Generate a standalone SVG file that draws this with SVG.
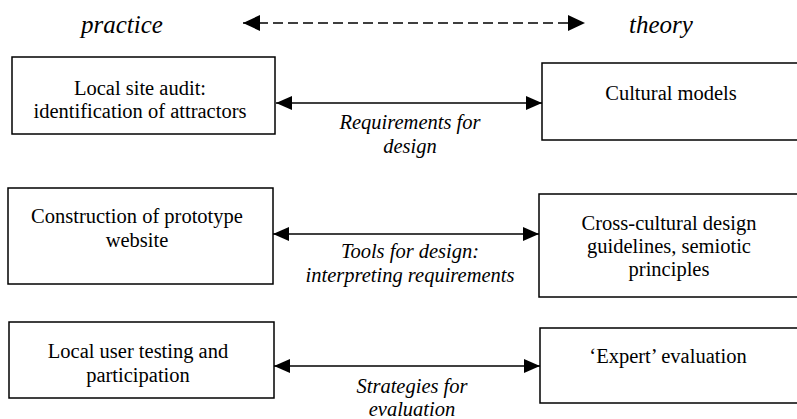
<svg xmlns="http://www.w3.org/2000/svg" width="797" height="419" viewBox="0 0 797 419" font-family="Liberation Serif, Times New Roman, Times, serif">
<style>
.box{fill:#fff;stroke:#000;stroke-width:1.5}
text{font-family:"Liberation Serif","Times New Roman",Times,serif}
.t{font-size:20.5px;fill:#000;text-anchor:middle}
.i{font-size:20.5px;font-style:italic;fill:#000;text-anchor:middle}
.h{font-size:25px;font-style:italic;fill:#000;text-anchor:middle}
.c{stroke:#000;stroke-width:1.5;fill:none}
</style>
<defs>
<marker id="ah" viewBox="0 0 16 14" refX="16" refY="7" markerWidth="16" markerHeight="14" markerUnits="userSpaceOnUse" orient="auto-start-reverse">
<path d="M0,0 L16,7 L0,14 Z" fill="#000"/>
</marker>
<marker id="ahb" viewBox="0 0 17 16" refX="17" refY="8" markerWidth="17" markerHeight="16" markerUnits="userSpaceOnUse" orient="auto-start-reverse">
<path d="M0,0 L17,8 L0,16 Z" fill="#000"/>
</marker>
</defs>
<rect width="797" height="419" fill="#fff"/>
<text class="h" x="122" y="33" font-family="Liberation Serif">practice</text>
<text class="h" x="661" y="33" font-family="Liberation Serif">theory</text>
<g id="connectors">
<line class="c" x1="243" y1="23" x2="585" y2="23" stroke-dasharray="10,5" marker-start="url(#ahb)" marker-end="url(#ahb)"/>
<line class="c" x1="276" y1="103" x2="542" y2="103" marker-start="url(#ah)" marker-end="url(#ah)"/>
<line class="c" x1="273" y1="234" x2="539" y2="234" marker-start="url(#ah)" marker-end="url(#ah)"/>
<line class="c" x1="274" y1="366" x2="540" y2="366" marker-start="url(#ah)" marker-end="url(#ah)"/>
<text class="i" x="410" y="129">Requirements for</text>
<text class="i" x="410" y="153">design</text>
<text class="i" x="410" y="258">Tools for design:</text>
<text class="i" x="410" y="282">interpreting requirements</text>
<text class="i" x="412" y="393">Strategies for</text>
<text class="i" x="412" y="416">evaluation</text>
</g>
<g id="n1">
<rect class="box" x="12" y="57" width="263" height="77"/>
<text class="t" x="140" y="95">Local site audit:</text>
<text class="t" x="140" y="118">identification of attractors</text>
</g>
<g id="n2">
<rect class="box" x="542" y="63" width="260" height="77"/>
<text class="t" x="671" y="100">Cultural models</text>
</g>
<g id="n3">
<rect class="box" x="8" y="188" width="265" height="96"/>
<text class="t" x="137" y="223">Construction of prototype</text>
<text class="t" x="137" y="247">website</text>
</g>
<g id="n4">
<rect class="box" x="539" y="194" width="263" height="103"/>
<text class="t" x="669" y="230">Cross-cultural design</text>
<text class="t" x="669" y="253">guidelines, semiotic</text>
<text class="t" x="669" y="276">principles</text>
</g>
<g id="n5">
<rect class="box" x="9" y="322" width="265" height="76"/>
<text class="t" x="138" y="358">Local user testing and</text>
<text class="t" x="138" y="382">participation</text>
</g>
<g id="n6">
<rect class="box" x="540" y="328" width="262" height="75"/>
<text class="t" x="668" y="363">‘Expert’ evaluation</text>
</g>
</svg>
